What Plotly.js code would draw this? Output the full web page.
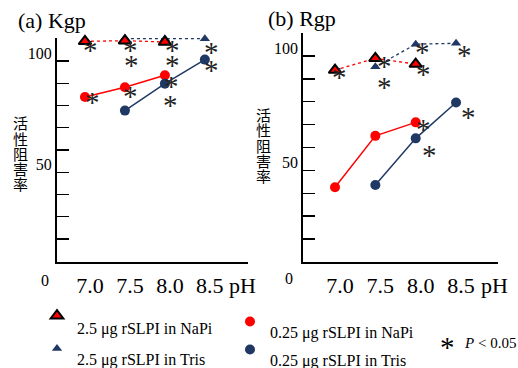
<!DOCTYPE html>
<html>
<head>
<meta charset="utf-8">
<script src="https://cdn.plot.ly/plotly-3.0.1.min.js"></script>
<style>html,body{margin:0;padding:0;background:#fff;}#chart{width:518px;height:368px;}</style>
</head>
<body>
<div id="chart"></div>
<script>
// ---- data ----
var pH = [7.0, 7.5, 8.0, 8.5];
var pHLabels = ['7.0', '7.5', '8.0', '8.5'];
var yTickVals = [20, 30, 40, 50, 60, 70, 80, 90, 100];
var yTickText = ['', '', '', '50', '', '', '', '', '100'];

var seriesNames = ['2.5 μg rSLPI in NaPi', '2.5 μg rSLPI in Tris', '0.25 μg rSLPI in NaPi', '0.25 μg rSLPI in Tris'];

// (a) Kgp
var kgpNaPi25x = [7.0, 7.5, 8.0];
var kgpNaPi25y = [108.8, 109.1, 108.5];
var kgpTris25x = [7.5, 8.0, 8.5];
var kgpTris25y = [110.0, 110.0, 110.0];
var kgpNaPi025x = [7.0, 7.5, 8.0];
var kgpNaPi025y = [83.8, 88.2, 93.6];
var kgpTris025x = [7.5, 8.0, 8.5];
var kgpTris025y = [77.7, 89.8, 100.6];
var kgpSigX = [7.07, 7.57, 7.58, 8.09, 8.10, 8.58, 8.58, 7.09, 7.57, 8.08, 8.07];
var kgpSigY = [107.3, 107.0, 100.3, 107.3, 100.3, 106.3, 98.1, 83.7, 86.7, 90.9, 82.4];

// (b) Rgp
var rgpNaPi25x = [7.0, 7.5, 8.0];
var rgpNaPi25y = [93.9, 99.0, 96.5];
var rgpTris25x = [7.5, 8.0, 8.5];
var rgpTris25y = [95.3, 105.2, 105.6];
var rgpNaPi025x = [7.0, 7.5, 8.0];
var rgpNaPi025y = [42.6, 65.1, 71.0];
var rgpTris025x = [7.5, 8.0, 8.5];
var rgpTris025y = [43.6, 64.0, 79.7];
var rgpSigX = [7.06, 7.61, 7.61, 8.09, 8.10, 8.61, 8.10, 8.17, 8.66];
var rgpSigY = [93.1, 97.8, 88.5, 104.1, 94.3, 102.6, 70.3, 58.9, 75.4];

var panelTitles = ['(a) Kgp', '(b) Rgp'];
var yTitle = '活性阻害率';

// ---- styles ----
var RED = '#ff0000';
var NAVY = '#1f3864';
var SERIF = 'Liberation Serif, Times New Roman, serif';
var W = 518, H = 368;

function lineTrace(x, y, color, dash, xa, ya) {
  return {x: x, y: y, mode: 'lines', xaxis: xa, yaxis: ya, showlegend: false, hoverinfo: 'skip',
    cliponaxis: false, line: {color: color, width: dash ? 1.3 : 1.5, dash: dash || 'solid'}};
}
function markTrace(x, y, marker, xa, ya, name, legendId) {
  return {x: x, y: y, mode: 'markers', xaxis: xa, yaxis: ya, marker: marker, cliponaxis: false,
    name: name ? '<br><span style="font-size:16px">' + name + '</span>' : '',
    showlegend: !!name, legend: legendId};
}
var triRed = {symbol: 'triangle-up', size: 11, color: RED, line: {color: '#000', width: 2}};
var triNavy = {symbol: 'triangle-up', size: 9, color: NAVY, line: {width: 0}};
var cirRed = {symbol: 'circle', size: 10, color: RED, line: {width: 0}};
var cirNavy = {symbol: 'circle', size: 10, color: NAVY, line: {width: 0}};

var traces = [
  // panel a
  lineTrace(kgpTris25x, kgpTris25y, NAVY, 'dot', 'x', 'y'),
  lineTrace(kgpNaPi25x, kgpNaPi25y, RED, 'dot', 'x', 'y'),
  lineTrace(kgpNaPi025x, kgpNaPi025y, RED, null, 'x', 'y'),
  lineTrace(kgpTris025x, kgpTris025y, NAVY, null, 'x', 'y'),
  markTrace(kgpTris25x, kgpTris25y, triNavy, 'x', 'y', seriesNames[1], 'legend2'),
  markTrace(kgpNaPi25x, kgpNaPi25y, triRed, 'x', 'y', seriesNames[0], 'legend'),
  markTrace(kgpNaPi025x, kgpNaPi025y, cirRed, 'x', 'y', seriesNames[2], 'legend3'),
  markTrace(kgpTris025x, kgpTris025y, cirNavy, 'x', 'y', seriesNames[3], 'legend4'),
  // panel b
  lineTrace(rgpTris25x, rgpTris25y, NAVY, 'dot', 'x2', 'y2'),
  lineTrace(rgpNaPi25x, rgpNaPi25y, RED, 'dot', 'x2', 'y2'),
  lineTrace(rgpNaPi025x, rgpNaPi025y, RED, null, 'x2', 'y2'),
  lineTrace(rgpTris025x, rgpTris025y, NAVY, null, 'x2', 'y2'),
  markTrace(rgpTris25x, rgpTris25y, triNavy, 'x2', 'y2'),
  markTrace(rgpNaPi25x, rgpNaPi25y, triRed, 'x2', 'y2'),
  markTrace(rgpNaPi025x, rgpNaPi025y, cirRed, 'x2', 'y2'),
  markTrace(rgpTris025x, rgpTris025y, cirNavy, 'x2', 'y2')
];

function xAxis(domain, range) {
  return {domain: domain, range: range, showline: true, linecolor: '#000', linewidth: 2,
    showgrid: false, zeroline: false, ticks: '', tickvals: pH, ticktext: pHLabels,
    tickfont: {family: SERIF, size: 22, color: '#000'}, ticklabelshift: 5, ticklabelstandoff: 3,
    fixedrange: true};
}
function yAxis(domain, range, anchor) {
  return {domain: domain, range: range, anchor: anchor, showline: true, linecolor: '#000', linewidth: 2,
    showgrid: false, zeroline: false, ticks: 'inside', ticklen: 12, tickwidth: 1.3, tickcolor: '#000',
    tickvals: yTickVals, ticktext: yTickText, tickfont: {family: SERIF, size: 16, color: '#000'},
    ticklabelshift: -8, fixedrange: true};
}

var annotations = [];
function addSig(xs, ys, xr, yr) {
  for (var i = 0; i < xs.length; i++) {
    annotations.push({x: xs[i], y: ys[i], xref: xr, yref: yr, text: '*', showarrow: false,
      xanchor: 'center', yanchor: 'middle', yshift: -5,
      font: {family: SERIF, size: 29, color: '#222'}});
  }
}
addSig(kgpSigX, kgpSigY, 'x', 'y');
addSig(rgpSigX, rgpSigY, 'x2', 'y2');

function pxA(text, px, py, size, family, xanchor, yshift) {
  annotations.push({x: px / W, y: 1 - py / H, xref: 'paper', yref: 'paper', text: text, showarrow: false,
    xanchor: xanchor || 'center', yanchor: 'middle', yshift: yshift || 0,
    font: {family: family || SERIF, size: size, color: '#000'}});
}
pxA(panelTitles[0], 16, 20, 22, SERIF, 'left');
pxA(panelTitles[1], 266, 18, 22, SERIF, 'left');
pxA('0', 45, 280, 16);
pxA('0', 289, 278, 16);
pxA('pH', 242, 285, 22);
pxA('pH', 494, 285, 22);
var yt = yTitle.split('');
for (var i = 0; i < yt.length; i++) {
  pxA(yt[i], 20, 122.7 + i * 15.3, 15, 'Noto Sans CJK JP');
  pxA(yt[i], 263, 114.6 + i * 15.3, 15, 'Noto Sans CJK JP');
}
pxA('*', 447, 342, 29, SERIF, 'center', -5);
pxA('<i>P</i> < 0.05', 462, 343, 15, SERIF, 'left');

function leg(px, py, fs) {
  return {x: px / W, y: 1 - py / H, xanchor: 'left', yanchor: 'top',
    bgcolor: 'rgba(0,0,0,0)', borderwidth: 0, valign: 'top',
    font: {family: SERIF, size: fs, color: '#000'}, itemwidth: 30,
    itemclick: false, itemdoubleclick: false};
}

var layout = {
  width: W, height: H, margin: {l: 0, r: 0, t: 0, b: 0, autoexpand: false},
  paper_bgcolor: '#fff', plot_bgcolor: 'rgba(0,0,0,0)',
  showlegend: true,
  xaxis: xAxis([57 / W, 248 / W], [6.65, 9.04]),
  yaxis: yAxis([1 - 262 / H, 1 - 38 / H], [9.7, 110.3], 'x'),
  xaxis2: xAxis([303.3 / W, 498 / W], [6.607, 9.02]),
  yaxis2: yAxis([1 - 262 / H, 1 - 33 / H], [9.9, 110.1], 'x2'),
  legend: leg(37, 302, 11),
  legend2: leg(37, 335.5, 10),
  legend3: leg(230, 308.5, 10),
  legend4: leg(230, 336.5, 10),
  annotations: annotations
};
layout.xaxis2.anchor = 'y2';
layout.xaxis.anchor = 'y';

Plotly.newPlot('chart', traces, layout, {staticPlot: true, displayModeBar: false});
</script>
</body>
</html>
